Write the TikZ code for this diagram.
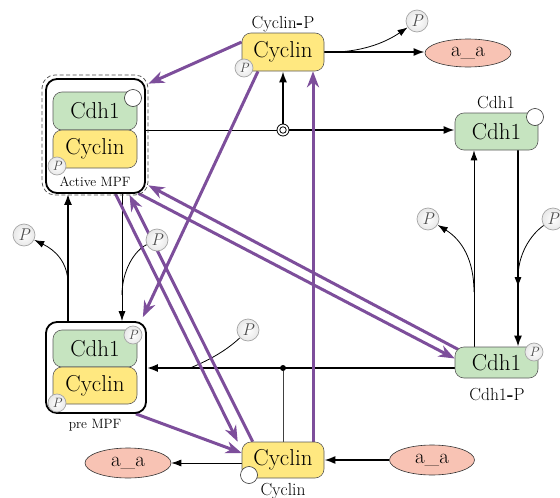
\documentclass[tikz,border=0pt]{standalone}
\usetikzlibrary{arrows.meta,shapes.geometric,backgrounds}
\definecolor{boxgreen}{RGB}{198,228,192}
\definecolor{boxyellow}{RGB}{255,232,128}
\definecolor{aasalmon}{RGB}{248,195,180}
\definecolor{mpurple}{RGB}{125,78,155}
\definecolor{boxedge}{RGB}{90,90,90}
\begin{document}
\begin{tikzpicture}[x=1pt,y=-1pt,
 molbox/.style={rectangle, rounded corners=9pt, draw=boxedge, line width=0.6pt, minimum width=84pt, minimum height=38pt, inner sep=0pt, font=\fontsize{23}{23}\selectfont},
 cdhbox/.style={molbox, fill=boxgreen},
 cycbox/.style={molbox, fill=boxyellow},
 cplx/.style={rectangle, rounded corners=11pt, draw=black, line width=1.8pt, inner sep=0pt},
 pcirc/.style={circle, draw=gray!70, line width=0.7pt, inner color=white, outer color=gray!18, minimum size=22pt, inner sep=0pt, font=\fontsize{17}{17}\selectfont\itshape, text=gray!60!black},
 psmall/.style={pcirc, minimum size=18pt, font=\fontsize{13.5}{13.5}\selectfont\itshape},
 ocirc/.style={circle, draw=black!80, line width=0.6pt, fill=white, minimum size=17pt, inner sep=0pt},
 aanode/.style={ellipse, draw=black!80, line width=0.6pt, fill=aasalmon, minimum width=86pt, minimum height=30pt, inner sep=0pt, font=\fontsize{21}{21}\selectfont},
 namelbl/.style={font=\fontsize{17.5}{17.5}\selectfont, inner sep=0pt},
 cplxlbl/.style={font=\fontsize{13.5}{13.5}\selectfont, inner sep=0pt},
 thickarr/.style={line width=1.8pt, -{Latex[length=11pt,width=8pt]}},
 thinarr/.style={line width=0.8pt, -{Latex[length=10pt,width=7pt]}},
 purarr/.style={draw=mpurple, line width=3pt, -{Stealth[length=16pt,width=12pt,inset=5pt]}},
]
\useasboundingbox (0,0) rectangle (560,498);

% Active MPF complex
\node[cplx, dashed, dash pattern=on 4pt off 2.5pt, draw=black!70, line width=0.7pt, minimum width=106pt, minimum height=120pt, rounded corners=13pt] (amOut) at (95,135) {};
\node[cplx, minimum width=99pt, minimum height=114pt] (amIn) at (95.5,136) {};
\node[cdhbox] (amCdh) at (95,111) {Cdh1};
\node[cycbox] (amCyc) at (95,149) {Cyclin};
\node[ocirc] (amO) at (133,98) {};
\node[psmall] (amP) at (57,166) {P};
\node[cplxlbl] (amLbl) at (95,182) {Active MPF};

% pre MPF complex
\node[cplx, minimum width=100pt, minimum height=91pt] (pmBox) at (96,367.5) {};
\node[cdhbox, minimum height=37pt] (pmCdh) at (95,348.5) {Cdh1};
\node[cycbox, minimum height=37pt] (pmCyc) at (95,385.5) {Cyclin};
\node[psmall] (pmP1) at (133,335) {P};
\node[psmall] (pmP2) at (57,403) {P};
\node[cplxlbl] (pmLbl) at (95,425) {pre MPF};

% Cyclin-P
\node[cycbox, minimum width=82pt] (cycP) at (283,52) {Cyclin};
\node[namelbl] (cycPl) at (283,24) {Cyclin{\bfseries -}P};
\node[psmall] (cycPP) at (244,68) {P};

% Cdh1 (top right)
\node[cdhbox, minimum width=83pt, minimum height=37pt] (cdhT) at (496.5,131.5) {Cdh1};
\node[ocirc] (cdhTO) at (535,117) {};
\node[namelbl] (cdhTl) at (496,103) {Cdh1};

% Cdh1-P
\node[cdhbox, minimum width=83pt, minimum height=31pt] (cdhP) at (496.5,362.5) {Cdh1};
\node[psmall] (cdhPP) at (534,352) {P};
\node[namelbl] (cdhPl) at (497,395) {Cdh1{\bfseries -}P};

% Cyclin (bottom)
\node[cycbox, minimum width=82pt, minimum height=36pt] (cycB) at (283,460) {Cyclin};
\node[ocirc] (cycBO) at (249,475) {};
\node[namelbl] (cycBl) at (283,491) {Cyclin};

% a_a
\node[aanode, minimum height=28pt] (aaT) at (468,53) {a\_a};
\node[aanode] (aaL) at (128,463) {a\_a};
\node[aanode, minimum width=85pt] (aaR) at (432,460) {a\_a};

% free phosphates
\node[pcirc] (pTop) at (417,21) {P};
\node[pcirc] (pLeft) at (24,235) {P};
\node[pcirc] (pMidL) at (157,240) {P};
\node[pcirc] (pMid) at (248,330) {P};
\node[pcirc] (pR1) at (428,219) {P};
\node[pcirc] (pR2) at (553,219) {P};

% junctions
\node[circle, draw, line width=0.8pt, fill=white, minimum size=12pt, inner sep=0pt] (jct) at (283,130) {};
\node[circle, draw, line width=0.8pt, minimum size=6.5pt, inner sep=0pt] (jctIn) at (283,130) {};
\node[circle, fill=black, minimum size=6pt, inner sep=0pt] (dot) at (283,368) {};

\coordinate (xR) at (518,0);
\coordinate (xL) at (474,0);
\coordinate (xA) at (68,0);
\coordinate (xB) at (122,0);
\coordinate (cTop) at (338,52);
\coordinate (jR2) at (518,287);
\coordinate (jR1) at (474,292);
\coordinate (jLeft) at (68,284);
\coordinate (jMidL) at (122,295);
\coordinate (jMid) at (190,368);

\begin{scope}[on background layer]
% black connectors
\draw[thickarr] (cycP.east) -- (cycP.east -| aaT.west);
\draw[thinarr] (cTop) .. controls (372,50) and (392,38) .. (pTop);
\draw[line width=0.8pt] (amIn.east |- jct) -- (jct);
\draw[thickarr] (jct) -- (jct -| cdhT.west);
\draw[thickarr] (jct) -- (cycP.south);
\draw[thickarr] (cdhT.south -| xR) -- (cdhP.north -| xR);
\draw[thinarr] (cdhP.north -| xL) -- (cdhT.south -| xL);
\draw[thinarr] (pR2) .. controls (530,235) and (518,255) .. (jR2);
\draw[thinarr] (jR1) .. controls (474,260) and (462,240) .. (pR1);
\draw[thickarr] (dot -| cdhP.west) -- (dot -| pmBox.east);
\draw[line width=0.6pt, gray!50!black] (dot) -- (dot |- cycB.north);
\draw[line width=0.8pt] (pMid) .. controls (225,352) and (205,362) .. (jMid);
\draw[thickarr] (pmBox.north -| xA) -- (amIn.south -| xA);
\draw[thinarr] (jLeft) .. controls (68,262) and (55,250) .. (pLeft);
\draw[thinarr] (amIn.south -| xB) -- (pmBox.north -| xB);
\draw[line width=0.8pt] (pMidL) .. controls (135,250) and (122,270) .. (jMidL);
\draw[thinarr] (aaL.east -| cycB.west) -- (aaL.east);
\draw[thickarr] (aaR.west) -- (aaR.west -| cycB.east);
% purple connectors
\draw[purarr] ([yshift=10pt]cycP.west) -- ([yshift=-9pt]amOut.north east);
\draw[purarr] ([xshift=-25pt]cycP.south) -- ([xshift=-4pt,yshift=4pt]pmBox.north east);
\draw[purarr] ([xshift=30pt]cycB.north) -- ([xshift=30pt]cycP.south);
\draw[purarr] ([xshift=4pt,yshift=-3pt]cdhP.north west) -- ([yshift=10pt]amOut.south east);
\draw[purarr] ([xshift=-10pt,yshift=2pt]amOut.south east) -- ([yshift=4pt]cdhP.west);
\draw[purarr] ([xshift=20pt]amIn.south) -- ([xshift=-4pt]cycB.north west);
\draw[purarr] ([xshift=11pt]cycB.north west) -- ([xshift=34pt,yshift=-1pt]amIn.south);
\draw[purarr] ([xshift=-11pt]pmBox.south east) -- ([yshift=7pt]cycB.west);
\end{scope}
\end{tikzpicture}
\end{document}
